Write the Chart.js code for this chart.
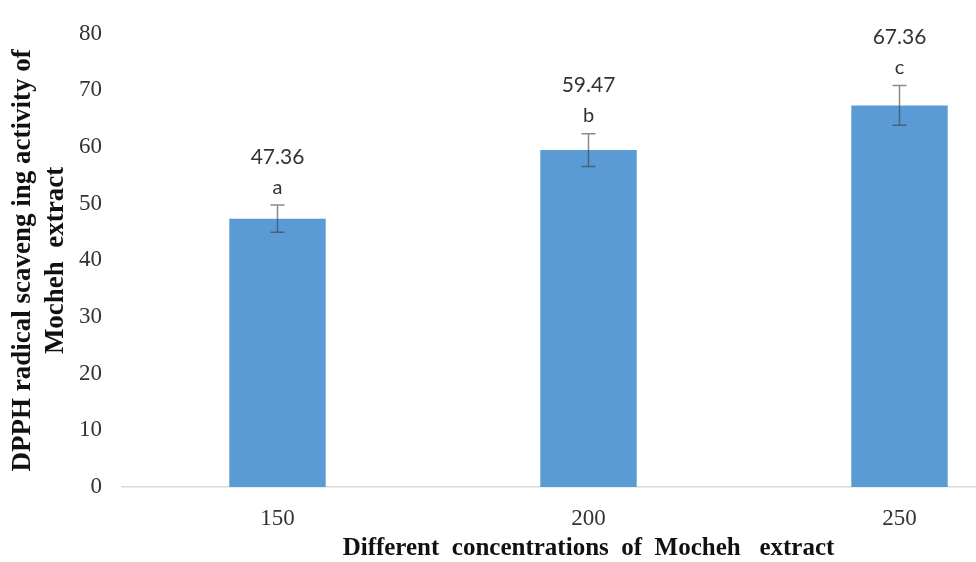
<!DOCTYPE html>
<html>
<head>
<meta charset="utf-8">
<script src="https://cdn.jsdelivr.net/npm/chart.js@4/dist/chart.umd.min.js"></script>
<style>
  html, body { margin: 0; padding: 0; background: #ffffff; overflow: hidden; }
  #wrap { width: 976px; height: 562px; overflow: hidden; position: relative; }
  canvas { display: block; }
</style>
</head>
<body>
<div id="wrap"><canvas id="chart" width="1080" height="562"></canvas></div>
<script>
// Concentrations of Mocheh extract and DPPH scavenging results
const concentrations = ['150', '200', '250'];
const scavenging = [47.36, 59.47, 67.36];
const errors = [2.4, 2.9, 3.5];
const groupLetters = ['a', 'b', 'c'];
const yTicks = [0, 10, 20, 30, 40, 50, 60, 70, 80];

// Error bars plus value / significance labels above each bar
const errorBarPlugin = {
  id: 'errorBars',
  afterDatasetsDraw(chart) {
    const ctx = chart.ctx;
    const y = chart.scales.y;
    const meta = chart.getDatasetMeta(0);
    meta.data.forEach((bar, i) => {
      const v = scavenging[i];
      const e = errors[i];
      const x = bar.x;
      const top = y.getPixelForValue(v + e);
      const bot = y.getPixelForValue(v - e);
      const cap = 7;
      ctx.save();
      ctx.strokeStyle = 'rgba(60,60,60,0.6)';
      ctx.lineWidth = 1.5;
      ctx.beginPath();
      ctx.moveTo(x, top); ctx.lineTo(x, bot);
      ctx.moveTo(x - cap, top); ctx.lineTo(x + cap, top);
      ctx.moveTo(x - cap, bot); ctx.lineTo(x + cap, bot);
      ctx.stroke();

      ctx.fillStyle = '#333333';
      ctx.textAlign = 'center';
      ctx.textBaseline = 'middle';
      ctx.font = '20px Lato, "Open Sans", sans-serif';
      ctx.fillText(groupLetters[i], x, top - 18);
      ctx.font = '21px Lato, "Open Sans", sans-serif';
      ctx.fillText(v.toFixed(2), x, top - 48);
      ctx.restore();
    });
  }
};

new Chart(document.getElementById('chart'), {
  type: 'bar',
  data: {
    labels: concentrations,
    datasets: [{
      data: scavenging,
      backgroundColor: '#5B9BD5',
      borderWidth: 0,
      barPercentage: 0.31,
      categoryPercentage: 1.0
    }]
  },
  options: {
    responsive: false,
    animation: false,
    devicePixelRatio: 1,
    layout: { padding: { left: 0, top: 25, right: 25, bottom: 0 } },
    plugins: {
      legend: { display: false },
      tooltip: { enabled: false }
    },
    scales: {
      x: {
        grid: { display: false, drawTicks: false },
        border: { display: true, color: '#d9d9d9', width: 1.5 },
        ticks: {
          color: '#333333',
          padding: 18,
          font: { family: '"Liberation Serif", "Times New Roman", serif', size: 23 }
        },
        title: {
          display: true,
          text: 'Different  concentrations  of  Mocheh   extract',
          color: '#111111',
          padding: { top: 0, bottom: 0 },
          font: { family: '"Liberation Serif", "Times New Roman", serif', size: 25, weight: 'bold', lineHeight: 1.1 }
        },
        afterFit(scale) { scale.height = 75; }
      },
      y: {
        min: 0,
        max: 80,
        grid: { display: false, drawTicks: false },
        border: { display: false },
        afterBuildTicks(scale) { scale.ticks = yTicks.map(v => ({ value: v })); },
        ticks: {
          color: '#333333',
          padding: 20,
          font: { family: '"Liberation Serif", "Times New Roman", serif', size: 23 }
        },
        title: {
          display: true,
          text: ['DPPH radical scaveng ing activity of', 'Mocheh  extract'],
          color: '#111111',
          padding: { top: 7, bottom: 0 },
          font: { family: '"Liberation Serif", "Times New Roman", serif', size: 27, weight: 'bold', lineHeight: 1.2 }
        },
        afterFit(scale) { scale.width = 122; }
      }
    }
  },
  plugins: [errorBarPlugin]
});
</script>
</body>
</html>
